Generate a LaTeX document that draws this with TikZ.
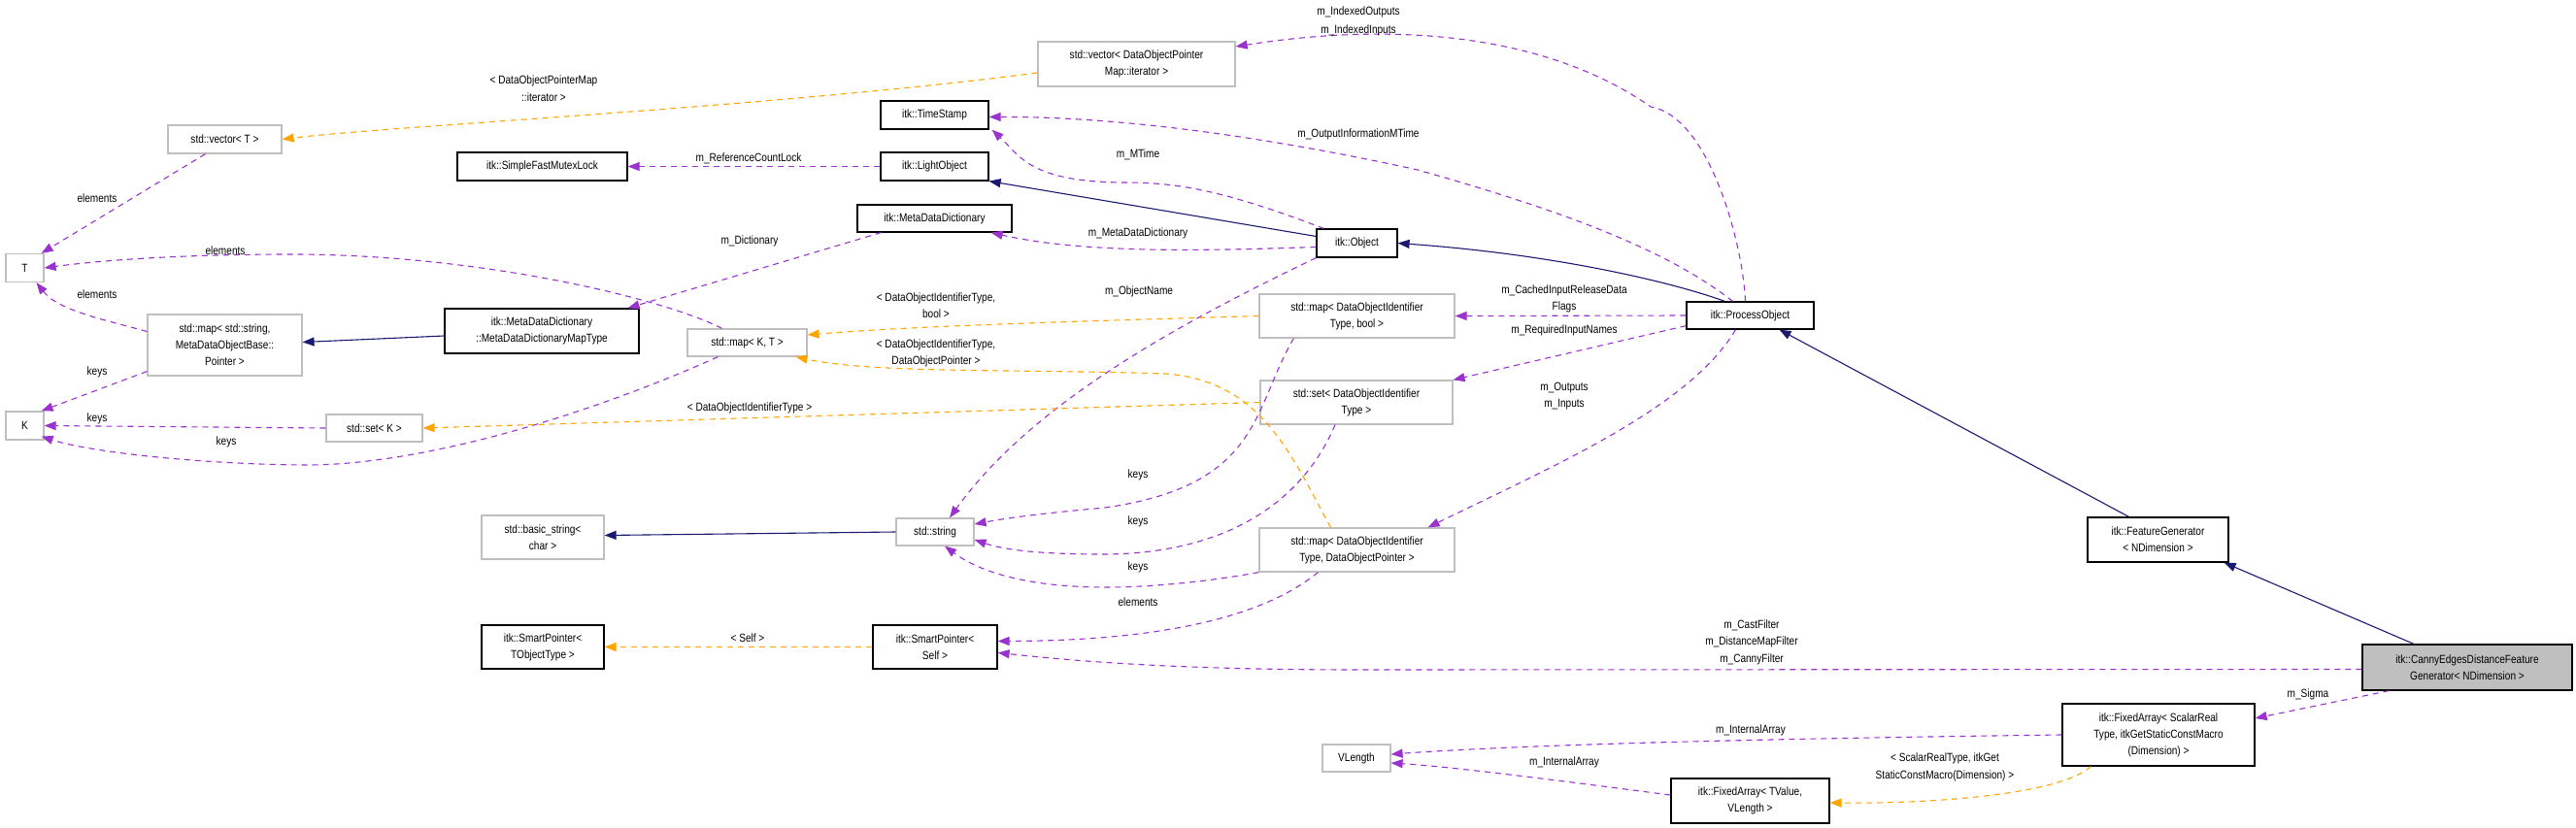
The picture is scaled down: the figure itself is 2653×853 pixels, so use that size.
\documentclass[tikz,border=0pt]{standalone}
\usepackage{fontspec}
\setmainfont{Liberation Sans}[FakeStretch=0.84]
\usetikzlibrary{arrows.meta,calc}
\definecolor{pur}{HTML}{9A32CD}
\definecolor{org}{HTML}{FFA500}
\definecolor{nav}{HTML}{191970}
\definecolor{gbd}{HTML}{BFBFBF}
\begin{document}
\begin{tikzpicture}[x=1pt,y=-1pt,
  every node/.style={font=\fontsize{12}{17}\selectfont,align=center,inner sep=0pt},
  cls/.style={draw=black,line width=1.2pt},
  ext/.style={draw=gbd,line width=1.2pt},
  lbl/.style={font=\fontsize{12}{17}\selectfont},
  use/.style={pur,dashed,dash pattern=on 6pt off 5pt,line width=1.1pt,-{Triangle[length=12pt,width=9pt]}},
  tpl/.style={org,dashed,dash pattern=on 6pt off 5pt,line width=1.1pt,-{Triangle[length=12pt,width=9pt]}},
  inh/.style={nav,line width=1.1pt,-{Triangle[length=12pt,width=9pt]}}]
\useasboundingbox (0,0) rectangle (2653,853);
\node[ext,minimum width=117,minimum height=29] (vecT) at (231.5,143.5) {std::vector< T >};
\node[cls,minimum width=175,minimum height=29] (sfml) at (558.5,171.5) {itk::SimpleFastMutexLock};
\node[ext,minimum width=39,minimum height=29] (T) at (25.5,276) {T};
\node[ext,minimum width=159,minimum height=63] (mapstr) at (231.5,355.5) {std::map< std::string,\\MetaDataObjectBase::\\Pointer >};
\node[cls,minimum width=200,minimum height=46] (mdmt) at (558,341) {itk::MetaDataDictionary\\::MetaDataDictionaryMapType};
\node[ext,minimum width=123,minimum height=28] (mapKT) at (769.5,353) {std::map< K, T >};
\node[ext,minimum width=39,minimum height=29] (K) at (25.5,438.5) {K};
\node[ext,minimum width=99,minimum height=28] (setK) at (385.5,441) {std::set< K >};
\node[ext,minimum width=203,minimum height=46] (vecDOP) at (1170.5,66) {std::vector< DataObjectPointer\\Map::iterator >};
\node[cls,minimum width=111,minimum height=29] (ts) at (962.5,118.5) {itk::TimeStamp};
\node[cls,minimum width=111,minimum height=29] (lo) at (962.5,171.5) {itk::LightObject};
\node[cls,minimum width=159,minimum height=28] (mdd) at (962.5,225) {itk::MetaDataDictionary};
\node[cls,minimum width=83,minimum height=29] (obj) at (1397.5,250.5) {itk::Object};
\node[ext,minimum width=201,minimum height=45] (mapbool) at (1397.5,325.5) {std::map< DataObjectIdentifier\\Type, bool >};
\node[ext,minimum width=198,minimum height=45] (setD) at (1397,414.5) {std::set< DataObjectIdentifier\\Type >};
\node[ext,minimum width=126,minimum height=45] (bstr) at (559,553.5) {std::basic\_string<\\char >};
\node[ext,minimum width=80,minimum height=28] (str) at (963,548) {std::string};
\node[ext,minimum width=201,minimum height=45] (mapdop) at (1397.5,566.5) {std::map< DataObjectIdentifier\\Type, DataObjectPointer >};
\node[cls,minimum width=126,minimum height=45] (spT) at (559,666.5) {itk::SmartPointer<\\TObjectType >};
\node[cls,minimum width=128,minimum height=45] (spS) at (963,666.5) {itk::SmartPointer<\\Self >};
\node[ext,minimum width=70,minimum height=28] (vlen) at (1397,781) {VLength};
\node[cls,minimum width=131,minimum height=28] (po) at (1802.5,325) {itk::ProcessObject};
\node[cls,minimum width=145,minimum height=46] (fg) at (2222.5,556) {itk::FeatureGenerator\\< NDimension >};
\node[cls,fill=gbd,minimum width=216,minimum height=47] (canny) at (2541,687.5) {itk::CannyEdgesDistanceFeature\\Generator< NDimension >};
\node[cls,minimum width=198,minimum height=64] (faS) at (2223,757) {itk::FixedArray< ScalarReal\\Type, itkGetStaticConstMacro\\(Dimension) >};
\node[cls,minimum width=163,minimum height=46] (faT) at (1802.5,825) {itk::FixedArray< TValue,\\VLength >};

% left cluster
\draw[tpl] ($(vecDOP.west)+(0,9)$) .. controls (800,110) and (400,130) .. (vecT.east);
\node[lbl] at (560,83) {< DataObjectPointerMap};
\node[lbl] at (560,100) {::iterator >};
\draw[use] ($(vecT.south)+(-20,0)$) -- ($(T.north east)+(-3,0)$);
\node[lbl] at (100,204) {elements};
\draw[use] ($(mapstr.west)+(0,-14)$) .. controls (110,330) and (60,320) .. ($(T.south)+(12,0)$);
\node[lbl] at (100,303) {elements};
\draw[use] ($(mapKT.north)+(-26,0)$) .. controls (690,310) and (500,262) .. (300,262) .. controls (170,262) and (90,270) .. (T.east);
\node[lbl] at (232,258) {elements};
\draw[use] ($(mapstr.south west)+(0,-5)$) -- ($(K.north east)+(-3,0)$);
\node[lbl] at (100,383) {keys};
\draw[use] (setK.west) -- (K.east);
\node[lbl] at (100,431) {keys};
\draw[use] ($(mapKT.south)+(-30,0)$) .. controls (600,430) and (430,480) .. (312,479) .. controls (200,478) and (90,465) .. ($(K.south east)+(-3,-4)$);
\node[lbl] at (233,455) {keys};
\draw[inh] ($(mdmt.west)+(0,5)$) -- ($(mapstr.east)+(0,-3)$);
\draw[use] ($(mdd.south west)+(25,0)$) -- ($(mdmt.north east)+(-12,0)$);
\node[lbl] at (772,248) {m\_Dictionary};
\draw[use] (lo.west) -- (sfml.east);
\node[lbl] at (771,163) {m\_ReferenceCountLock};
% Object
\draw[inh] ($(obj.west)+(0,-7)$) -- (lo.south east);
\draw[use] ($(obj.north west)+(8,0)$) .. controls (1270,200) and (1220,188) .. (1160,188) .. controls (1060,188) and (1050,160) .. ($(ts.south east)+(3,0)$);
\node[lbl] at (1172,159) {m\_MTime};
\draw[use] ($(obj.west)+(0,4)$) .. controls (1250,258) and (1120,262) .. ($(mdd.south east)+(-22,0)$);
\node[lbl] at (1172,240) {m\_MetaDataDictionary};
\draw[use] (obj.south west) .. controls (1200,340) and (1060,420) .. ($(str.north)+(15,0)$);
\node[lbl] at (1173,300) {m\_ObjectName};
% ProcessObject
\draw[inh] ($(po.north west)+(40,0)$) .. controls (1720,290) and (1600,262) .. (obj.east);
\draw[use] ($(po.north)+(-5,0)$) .. controls (1795,250) and (1760,120) .. (1700,110) .. controls (1600,40) and (1450,20) .. ($(vecDOP.east)+(0,-18)$);
\node[lbl] at (1399,12) {m\_IndexedOutputs};
\node[lbl] at (1399,31) {m\_IndexedInputs};
\draw[use] ($(po.north)+(-18,0)$) .. controls (1720,260) and (1620,220) .. (1460,175) .. controls (1300,140) and (1150,120) .. ($(ts.east)+(0,2)$);
\node[lbl] at (1399,138) {m\_OutputInformationMTime};
\draw[use] (po.west) -- (mapbool.east);
\node[lbl] at (1611,299) {m\_CachedInputReleaseData};
\node[lbl] at (1611,316) {Flags};
\draw[use] ($(po.south west)+(0,-4)$) -- (setD.north east);
\node[lbl] at (1611,340) {m\_RequiredInputNames};
\draw[use] ($(po.south)+(-15,0)$) .. controls (1740,420) and (1600,480) .. ($(mapdop.north east)+(-28,0)$);
\node[lbl] at (1611,400) {m\_Outputs};
\node[lbl] at (1611,417) {m\_Inputs};
\draw[inh] ($(fg.north)+(-30,0)$) -- ($(po.south)+(30,0)$);
\draw[inh] ($(canny.north)+(-55,0)$) -- ($(fg.south east)+(-5,0)$);
% templates
\draw[tpl] (mapbool.west) .. controls (1150,330) and (950,335) .. ($(mapKT.east)+(0,-8)$);
\node[lbl] at (964,307) {< DataObjectIdentifierType,};
\node[lbl] at (964,323) {bool >};
\draw[tpl] ($(mapdop.north)+(-27,0)$) .. controls (1330,470) and (1300,392) .. (1200,385) .. controls (1050,380) and (900,385) .. ($(mapKT.south east)+(-12,0)$);
\node[lbl] at (964,355) {< DataObjectIdentifierType,};
\node[lbl] at (964,372) {DataObjectPointer >};
\draw[tpl] (setD.west) -- (setK.east);
\node[lbl] at (772,420) {< DataObjectIdentifierType >};
% keys to string
\draw[use] ($(mapbool.south west)+(-64+100,0)$) .. controls (1290,420) and (1300,500) .. (1138,523) .. controls (1060,530) and (1030,535) .. ($(str.east)+(0,-8)$);
\node[lbl] at (1172,489) {keys};
\draw[use] ($(setD.south)+(-22,0)$) .. controls (1340,520) and (1260,570) .. (1138,571) .. controls (1060,571) and (1030,565) .. ($(str.east)+(0,8)$);
\node[lbl] at (1172,537) {keys};
\draw[use] ($(mapdop.south west)+(0,0)$) .. controls (1240,600) and (1180,605) .. (1140,605) .. controls (1060,605) and (1010,590) .. ($(str.south)+(10,0)$);
\node[lbl] at (1172,584) {keys};
\draw[use] ($(mapdop.south)+(-40,0)$) .. controls (1320,620) and (1240,660) .. ($(spS.east)+(0,-6)$);
\node[lbl] at (1172,620) {elements};
\draw[inh] (str.west) -- ($(bstr.east)+(0,-2)$);
\draw[tpl] (spS.west) -- ($(spT.east)+(0,0)$);
\node[lbl] at (770,657) {< Self >};
% Canny
\draw[use] ($(canny.west)+(0,2)$) -- (1400,690) .. controls (1200,690) and (1100,680) .. ($(spS.east)+(0,6)$);
\node[lbl] at (1804,644) {m\_CastFilter};
\node[lbl] at (1804,661) {m\_DistanceMapFilter};
\node[lbl] at (1804,679) {m\_CannyFilter};
\draw[use] ($(canny.south west)+(28,0)$) -- ($(faS.east)+(0,-17)$);
\node[lbl] at (2377,715) {m\_Sigma};
\draw[use] (faS.west) .. controls (1900,760) and (1600,765) .. ($(vlen.east)+(0,-4)$);
\node[lbl] at (1803,752) {m\_InternalArray};
\draw[use] ($(faT.west)+(0,-6)$) .. controls (1650,810) and (1500,790) .. ($(vlen.east)+(0,5)$);
\node[lbl] at (1611,785) {m\_InternalArray};
\draw[tpl] ($(faS.south west)+(30,0)$) .. controls (2120,820) and (1980,828) .. ($(faT.east)+(0,2)$);
\node[lbl] at (2003,781) {< ScalarRealType, itkGet};
\node[lbl] at (2003,799) {StaticConstMacro(Dimension) >};
\end{tikzpicture}
\end{document}
